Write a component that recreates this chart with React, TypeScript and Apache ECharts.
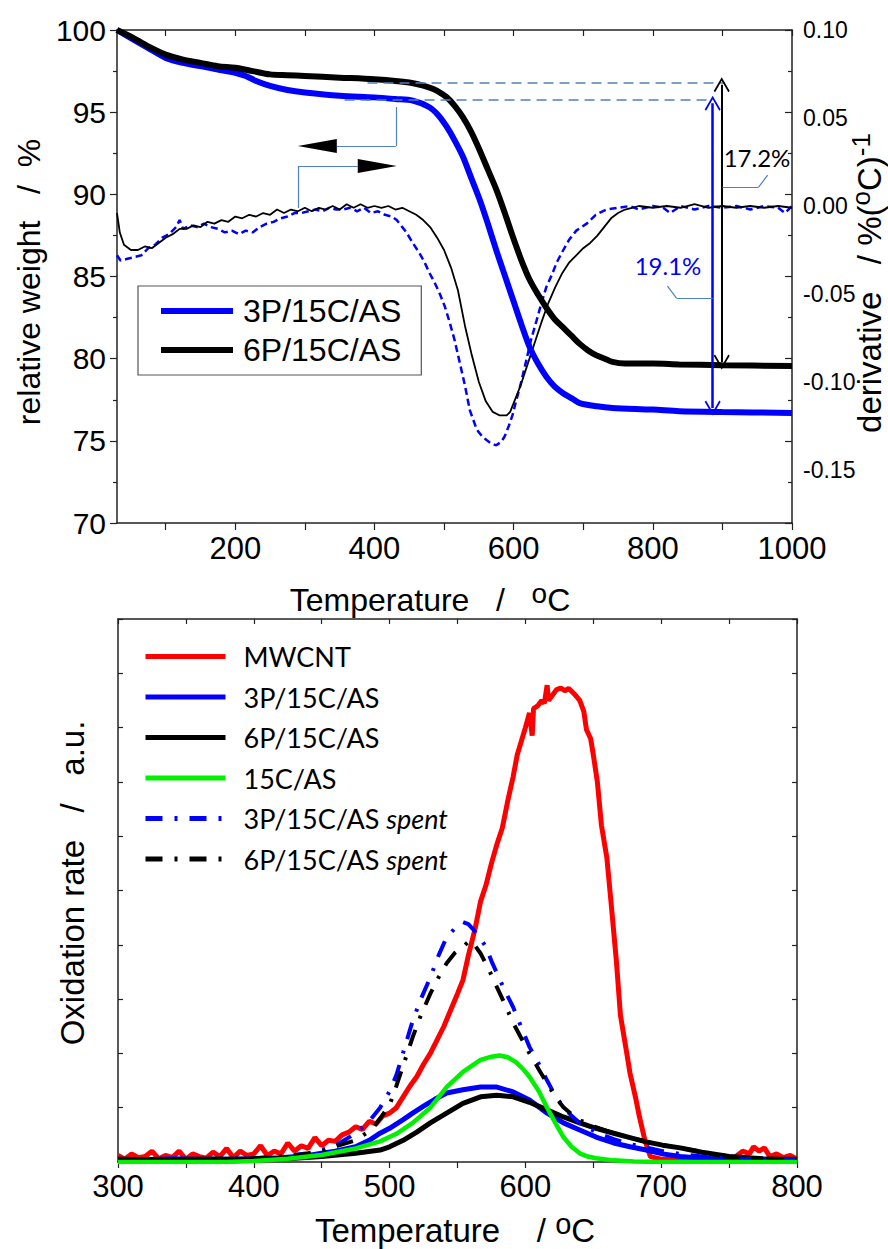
import React, { useEffect, useRef } from 'react';
import * as echarts from 'echarts';

const W = 888;
const H = 1249;
const FONT = "'Liberation Sans', Arial, sans-serif";
const FONT2 = "Lato, 'Open Sans', sans-serif";

// ---------- Top chart: TGA (relative weight, %) ----------
const tga3P: number[][] = [
  [30, 100], [50, 99.5], [75, 98.9], [100, 98.3], [125, 98.0], [150, 97.8], [175, 97.6], [200, 97.4],
  [215, 97.2], [230, 96.9], [250, 96.6], [275, 96.35], [300, 96.2], [350, 96.0], [400, 95.9], [430, 95.8],
  [455, 95.7], [479, 95.3], [492, 94.8], [504, 94.1], [515, 93.3], [527, 92.3], [539, 91.0], [551, 89.7],
  [563, 88.2], [575, 86.6], [587, 85.1], [599, 83.6], [611, 82.1], [623, 80.7], [635, 79.7], [647, 78.9],
  [659, 78.3], [671, 77.9], [683, 77.6], [695, 77.3], [720, 77.1], [742, 77.0], [800, 76.9], [838, 76.8],
  [900, 76.75], [1000, 76.7],
];
const tga6P: number[][] = [
  [30, 100], [50, 99.6], [75, 99.0], [100, 98.5], [125, 98.2], [150, 98.0], [175, 97.8], [200, 97.7],
  [225, 97.5], [250, 97.3], [275, 97.25], [300, 97.2], [350, 97.1], [400, 97.0], [450, 96.8], [479, 96.5],
  [490, 96.3], [504, 95.9], [515, 95.4], [527, 94.7], [539, 93.8], [551, 92.7], [563, 91.5], [575, 90.3],
  [587, 88.9], [599, 87.4], [611, 86.0], [623, 84.8], [635, 83.9], [647, 83.1], [659, 82.4], [671, 81.9],
  [683, 81.4], [695, 80.9], [707, 80.5], [719, 80.2], [731, 80.0], [742, 79.8], [760, 79.7], [800, 79.7],
  [838, 79.65], [900, 79.6], [1000, 79.55],
];

// ---------- Top chart: derivative (%/°C) ----------
const deriv3P: number[][] = [
  [30, -0.028], [35, -0.031], [45, -0.030], [55, -0.029], [65, -0.028], [75, -0.024], [85, -0.022], [95, -0.018],
  [105, -0.016], [115, -0.012], [120, -0.008], [125, -0.013], [135, -0.011], [145, -0.012], [155, -0.010],
  [165, -0.012], [175, -0.013], [185, -0.015], [195, -0.014], [205, -0.016], [215, -0.014], [225, -0.015],
  [235, -0.012], [245, -0.010], [255, -0.009], [265, -0.007], [275, -0.006], [285, -0.004], [295, -0.004],
  [305, -0.003], [315, -0.002], [325, -0.003], [335, -0.001], [345, -0.002], [355, -0.002], [365, -0.001],
  [375, -0.003], [385, -0.001], [395, -0.004], [405, -0.003], [415, -0.005], [425, -0.006], [432, -0.008],
  [440, -0.012], [446, -0.015], [455, -0.021], [465, -0.027], [472, -0.032], [479, -0.038], [487, -0.044],
  [494, -0.050], [501, -0.057], [508, -0.066], [515, -0.076], [522, -0.088], [530, -0.102], [537, -0.116],
  [547, -0.127], [555, -0.131], [561, -0.133], [568, -0.135], [575, -0.136], [582, -0.134], [587, -0.131],
  [593, -0.125], [599, -0.118], [604, -0.110], [609, -0.103], [618, -0.088], [625, -0.076], [633, -0.065],
  [640, -0.055], [647, -0.046], [655, -0.039], [662, -0.032], [670, -0.026], [680, -0.019], [690, -0.014],
  [705, -0.010], [718, -0.005], [733, -0.002], [750, -0.001], [767, 0.000], [780, -0.002], [800, 0.000],
  [815, -0.001], [825, -0.004], [840, 0.000], [860, -0.002], [880, 0.000], [900, -0.001], [920, 0.000],
  [940, -0.002], [960, 0.000], [980, -0.001], [990, -0.004], [1000, 0.000],
];
const deriv6P: number[][] = [
  [30, -0.004], [34, -0.015], [40, -0.022], [50, -0.025], [60, -0.025], [70, -0.023], [80, -0.024], [90, -0.021],
  [100, -0.018], [110, -0.016], [120, -0.013], [130, -0.013], [140, -0.011], [150, -0.012], [160, -0.009],
  [170, -0.010], [180, -0.008], [190, -0.009], [200, -0.006], [210, -0.007], [220, -0.005], [230, -0.006],
  [240, -0.004], [250, -0.005], [260, -0.002], [270, -0.004], [280, -0.002], [290, -0.003], [300, -0.001],
  [310, -0.003], [320, -0.001], [330, -0.002], [340, 0.000], [350, -0.002], [360, 0.001], [370, -0.001],
  [380, 0.001], [390, -0.001], [400, 0.000], [410, -0.001], [420, 0.000], [430, -0.002], [440, -0.001],
  [450, -0.003], [460, -0.005], [470, -0.008], [480, -0.012], [490, -0.018], [500, -0.025], [510, -0.035],
  [520, -0.048], [530, -0.068], [540, -0.085], [550, -0.100], [560, -0.111], [570, -0.117], [580, -0.119],
  [590, -0.119], [595, -0.117], [600, -0.112], [610, -0.102], [620, -0.090], [630, -0.078], [640, -0.066],
  [650, -0.055], [660, -0.046], [670, -0.038], [680, -0.032], [690, -0.028], [700, -0.024], [710, -0.021],
  [720, -0.017], [730, -0.012], [740, -0.007], [750, -0.004], [760, -0.002], [770, -0.001], [780, 0.000],
  [800, -0.001], [820, 0.000], [840, -0.001], [860, 0.001], [880, -0.001], [900, 0.000], [920, -0.001],
  [940, 0.000], [960, -0.001], [980, 0.000], [1000, -0.001],
];

// ---------- Bottom chart: oxidation rate (a.u.) ----------
const rateMWCNT: number[][] = [
  [300, 0.12], [305, 0.05], [310, 0.15], [315, 0.08], [320, 0.1], [325, 0.2], [330, 0.06], [335, 0.12],
  [340, 0.08], [345, 0.2], [350, 0.05], [355, 0.15], [360, 0.1], [365, 0.07], [370, 0.18], [375, 0.1],
  [380, 0.25], [385, 0.08], [390, 0.2], [395, 0.12], [400, 0.15], [405, 0.3], [410, 0.12], [415, 0.2],
  [420, 0.15], [425, 0.35], [430, 0.2], [435, 0.3], [440, 0.25], [445, 0.45], [450, 0.3], [455, 0.4],
  [460, 0.38], [465, 0.5], [470, 0.55], [475, 0.65], [480, 0.6], [485, 0.75], [490, 0.7], [495, 0.85],
  [500, 0.9], [505, 1.0], [510, 1.2], [515, 1.4], [520, 1.57], [525, 1.8], [530, 2.0], [535, 2.25],
  [540, 2.5], [545, 2.8], [550, 3.1], [554, 3.35], [558, 3.8], [563, 4.3], [567, 4.8], [571, 5.1],
  [575, 5.5], [579, 5.85], [583, 6.15], [587, 6.65], [591, 7.1], [594, 7.5], [597, 7.75], [600, 8.0],
  [603, 8.27], [605, 7.85], [606, 8.35], [609, 8.4], [612, 8.5], [614, 8.45], [616, 8.78], [617, 8.5],
  [620, 8.6], [623, 8.7], [626, 8.73], [629, 8.68], [632, 8.72], [636, 8.62], [640, 8.5], [643, 8.3],
  [645, 7.96], [648, 7.8], [650, 7.5], [653, 7.0], [656, 6.2], [660, 5.6], [663, 4.8], [667, 3.7],
  [670, 2.7], [674, 2.1], [677, 1.64], [681, 1.2], [684, 0.83], [688, 0.4], [692, 0.1], [700, 0.05],
  [710, 0.05], [720, 0.07], [730, 0.04], [740, 0.06], [750, 0.05], [755, 0.1], [760, 0.2], [765, 0.15],
  [768, 0.28], [772, 0.2], [776, 0.26], [780, 0.1], [785, 0.15], [790, 0.08], [795, 0.12], [800, 0.05],
];
const rate3P: number[][] = [
  [300, 0.05], [320, 0.04], [340, 0.06], [360, 0.05], [380, 0.05], [400, 0.06], [420, 0.08], [440, 0.12],
  [450, 0.16], [460, 0.2], [475, 0.28], [485, 0.4], [493, 0.53], [500, 0.62], [510, 0.78], [517, 0.9],
  [525, 1.03], [533, 1.15], [542, 1.27], [554, 1.33], [567, 1.38], [579, 1.38], [591, 1.29], [603, 1.14],
  [616, 0.9], [628, 0.72], [640, 0.59], [652, 0.46], [665, 0.35], [677, 0.28], [689, 0.22], [701, 0.15],
  [714, 0.1], [730, 0.07], [750, 0.05], [775, 0.05], [800, 0.04],
];
const rate6P: number[][] = [
  [300, 0.05], [330, 0.04], [360, 0.05], [400, 0.05], [430, 0.07], [450, 0.1], [475, 0.16], [493, 0.22],
  [500, 0.28], [510, 0.4], [520, 0.55], [530, 0.72], [542, 0.9], [554, 1.08], [567, 1.2], [579, 1.23],
  [591, 1.2], [603, 1.1], [616, 0.96], [628, 0.83], [640, 0.72], [652, 0.62], [665, 0.53], [677, 0.45],
  [689, 0.37], [701, 0.31], [714, 0.26], [730, 0.18], [750, 0.1], [775, 0.06], [800, 0.05],
];
const rate15C: number[][] = [
  [300, 0], [380, 0], [400, 0.02], [425, 0.06], [450, 0.13], [475, 0.25], [493, 0.38], [505, 0.52],
  [517, 0.72], [530, 1.0], [542, 1.38], [554, 1.66], [567, 1.88], [575, 1.94], [581, 1.96], [587, 1.93],
  [593, 1.84], [598, 1.72], [603, 1.57], [610, 1.3], [616, 1.0], [622, 0.72], [628, 0.46], [634, 0.28],
  [640, 0.16], [646, 0.1], [652, 0.07], [665, 0.03], [680, 0.01], [700, 0], [800, 0],
];
const rate3PSpent: number[][] = [
  [300, 0.05], [340, 0.05], [380, 0.06], [400, 0.07], [420, 0.1], [440, 0.16], [450, 0.22], [460, 0.3],
  [475, 0.53], [485, 0.75], [493, 1.0], [500, 1.3], [505, 1.6], [511, 2.1], [517, 2.6], [523, 3.0],
  [530, 3.4], [536, 3.8], [542, 4.14], [548, 4.3], [554, 4.42], [558, 4.38], [561, 4.3], [566, 4.15],
  [571, 3.96], [575, 3.7], [579, 3.48], [585, 3.15], [591, 2.85], [597, 2.48], [603, 2.12], [610, 1.8],
  [616, 1.5], [622, 1.22], [628, 1.01], [634, 0.85], [640, 0.72], [652, 0.55], [665, 0.42], [677, 0.33],
  [689, 0.27], [701, 0.2], [714, 0.15], [730, 0.1], [750, 0.06], [775, 0.05], [800, 0.04],
];
const rate6PSpent: number[][] = [
  [300, 0.05], [340, 0.05], [380, 0.06], [400, 0.07], [420, 0.1], [440, 0.15], [450, 0.2], [462, 0.3],
  [475, 0.4], [487, 0.6], [493, 0.8], [500, 1.05], [505, 1.4], [511, 1.85], [517, 2.3], [523, 2.7],
  [530, 3.1], [536, 3.4], [542, 3.66], [548, 3.85], [554, 3.96], [559, 4.08], [563, 3.98], [567, 3.84],
  [573, 3.55], [579, 3.22], [585, 2.9], [591, 2.56], [597, 2.28], [603, 2.0], [610, 1.7], [616, 1.45],
  [622, 1.2], [628, 1.01], [634, 0.88], [640, 0.77], [652, 0.64], [665, 0.53], [677, 0.45], [689, 0.37],
  [701, 0.31], [714, 0.26], [730, 0.19], [750, 0.1], [775, 0.06], [800, 0.05],
];

// ---------- Ticks / labels ----------
const topXTicks = [100, 200, 300, 400, 500, 600, 700, 800, 900, 1000];
const topXLabels = [200, 400, 600, 800, 1000];
const bottomXLabels = [300, 400, 500, 600, 700, 800];
const topLegend = ['3P/15C/AS', '6P/15C/AS'];
const bottomLegend = ['MWCNT', '3P/15C/AS', '6P/15C/AS', '15C/AS', '3P/15C/AS spent', '6P/15C/AS spent'];

// ---------- Annotations (data coordinates) ----------
const plateau6P = 96.77;
const plateau3P = 95.74;
const residue6P = 79.8;
const residue3P = 77.0;
const loss6PLabel = '17.2%';
const loss3PLabel = '19.1%';

export default function App() {
  const ref = useRef<HTMLDivElement>(null);

  useEffect(() => {
    const el = ref.current;
    if (!el) return;
    const chart = echarts.init(el, null, { renderer: 'svg', width: W, height: H });

    const steel = '#4F81BD';
    const axisLine = { show: true, onZero: false, lineStyle: { color: '#222', width: 1.5 } };
    const tickStyle = { color: '#222', width: 1.2 };
    const chevron = 'path://M0,14 L8,0 L16,14 L14.6,15.2 L8,3.6 L1.4,15.2 Z';
    const seg = (a: number[], b: number[], style: any) => [
      { coord: a, symbol: 'none', lineStyle: style },
      { coord: b, symbol: 'none' },
    ];
    const arrow = (x: number, y1: number, y2: number, style: any) => [
      { coord: [x, y1], symbol: chevron, symbolSize: [16, 15], lineStyle: style },
      { coord: [x, y2], symbol: chevron, symbolSize: [16, 15] },
    ];
    const leader = { color: steel, width: 1.2, type: 'solid' };
    const dashed = { color: steel, width: 1.5, type: [10, 6] };

    const bottomLine = (name: string, data: number[][], color: string, width: number, dash?: number[]) => ({
      name,
      type: 'line',
      xAxisIndex: 3,
      yAxisIndex: 3,
      data,
      symbol: 'none',
      showSymbol: false,
      lineStyle: { color, width, type: dash || 'solid' },
      itemStyle: { color },
      z: 2,
    });

    const supRich = (base: number, sup: number) => ({
      a: { fontFamily: FONT, fontSize: base, fill: '#000', color: '#000', lineHeight: 42 },
      s: { fontFamily: FONT, fontSize: sup, fill: '#000', color: '#000', lineHeight: 16, verticalAlign: 'top' },
    });

    const option: any = {
      animation: false,
      backgroundColor: '#fff',
      grid: [
        { left: 117, top: 30, width: 675, height: 493, containLabel: false, outerBoundsMode: 'none' },
        { left: 117, top: 30, width: 675, height: 528, containLabel: false, outerBoundsMode: 'none' },
        { left: 118, top: 619, width: 679, height: 543, containLabel: false, outerBoundsMode: 'none' },
      ],
      xAxis: [
        {
          gridIndex: 0, type: 'value', min: 30, max: 1000, position: 'bottom',
          axisLine, splitLine: { show: false },
          axisTick: { show: true, inside: false, length: 7, customValues: topXTicks, lineStyle: tickStyle },
          axisLabel: {
            show: true, customValues: topXLabels, fontFamily: FONT, fontSize: 31, color: '#000', margin: 10,
            formatter: (v: number) => String(v),
          },
        },
        {
          gridIndex: 0, type: 'value', min: 30, max: 1000, position: 'top',
          axisLine, splitLine: { show: false },
          axisTick: { show: true, inside: true, length: 6, customValues: topXTicks, lineStyle: tickStyle },
          axisLabel: { show: false },
        },
        {
          gridIndex: 1, type: 'value', min: 30, max: 1000, show: false,
          axisLine: { show: false, onZero: false },
        },
        {
          gridIndex: 2, type: 'value', min: 300, max: 800, interval: 50, position: 'bottom',
          axisLine, splitLine: { show: false },
          axisTick: { show: true, inside: false, length: 6, lineStyle: tickStyle },
          axisLabel: {
            show: true, customValues: bottomXLabels, fontFamily: FONT, fontSize: 31, color: '#000', margin: 9,
            formatter: (v: number) => String(v),
          },
        },
        {
          gridIndex: 2, type: 'value', min: 300, max: 800, interval: 50, position: 'top',
          axisLine, splitLine: { show: false },
          axisTick: { show: true, inside: true, length: 5, lineStyle: tickStyle },
          axisLabel: { show: false },
        },
      ],
      yAxis: [
        {
          gridIndex: 0, type: 'value', min: 70, max: 100, interval: 5, position: 'left',
          axisLine, splitLine: { show: false },
          axisTick: { show: true, inside: false, length: 7, lineStyle: tickStyle },
          minorTick: { show: true, splitNumber: 2, length: 4, lineStyle: tickStyle },
          axisLabel: { fontFamily: FONT, fontSize: 30, color: '#000', margin: 11 },
        },
        {
          gridIndex: 0, type: 'value', min: -0.2, max: 0.1, interval: 0.05, position: 'right',
          axisLine, splitLine: { show: false },
          axisTick: { show: true, inside: true, length: 7, lineStyle: tickStyle },
          minorTick: { show: true, splitNumber: 2, length: 4, lineStyle: tickStyle },
          axisLabel: { show: false },
        },
        {
          gridIndex: 1, type: 'value', min: -0.2, max: 0.1, interval: 0.05, position: 'right',
          axisLine: { show: false, onZero: false }, axisTick: { show: false }, splitLine: { show: false },
          axisLabel: {
            show: true, fontFamily: FONT, fontSize: 23, color: '#000', margin: 11,
            formatter: (v: number) => (Math.abs(v + 0.2) < 1e-6 ? '' : v.toFixed(2)),
          },
        },
        {
          gridIndex: 2, type: 'value', min: 0, max: 10, interval: 1, position: 'left',
          axisLine, splitLine: { show: false },
          axisTick: { show: true, inside: true, length: 5, lineStyle: tickStyle },
          axisLabel: { show: false },
        },
        {
          gridIndex: 2, type: 'value', min: 0, max: 10, interval: 1, position: 'right',
          axisLine, splitLine: { show: false },
          axisTick: { show: true, inside: true, length: 5, lineStyle: tickStyle },
          axisLabel: { show: false },
        },
      ],
      legend: [
        {
          data: topLegend,
          orient: 'vertical',
          left: 138,
          top: 286,
          padding: [9, 20, 9, 20],
          itemWidth: 72,
          itemHeight: 32,
          itemGap: 7,
          borderColor: '#555',
          borderWidth: 1.2,
          lineStyle: { width: 6 },
          itemStyle: { opacity: 0 },
          textStyle: { fontFamily: FONT, fontSize: 32, color: '#000', padding: [0, 0, 0, 5] },
          selectedMode: false,
        },
        {
          data: bottomLegend,
          orient: 'vertical',
          left: 143,
          top: 643,
          padding: 0,
          itemWidth: 80,
          itemHeight: 30,
          itemGap: 13.5,
          lineStyle: { width: 5 },
          itemStyle: { opacity: 0 },
          selectedMode: false,
          formatter: (name: string) =>
            name.endsWith(' spent') ? `{n|${name.slice(0, -6)} }{i|spent}` : `{n|${name}}`,
          textStyle: {
            fontFamily: FONT2, fontSize: 27, color: '#000', padding: [0, 0, 0, 13],
            rich: {
              n: { fontFamily: FONT2, fontSize: 27, color: '#000', lineHeight: 30 },
              i: { fontFamily: FONT2, fontSize: 27, color: '#000', lineHeight: 30, fontStyle: 'italic' },
            },
          },
        },
      ],
      series: [
        bottomLine('MWCNT', rateMWCNT, '#FF0000', 5),
        bottomLine('3P/15C/AS', rate3P, '#0000FF', 5),
        bottomLine('6P/15C/AS', rate6P, '#000000', 5),
        bottomLine('3P/15C/AS spent', rate3PSpent, '#0000FF', 4, [17, 12, 3, 12]),
        bottomLine('6P/15C/AS spent', rate6PSpent, '#000000', 4, [17, 12, 3, 12]),
        bottomLine('15C/AS', rate15C, '#00F000', 4.5),
        {
          name: 'derivative 3P/15C/AS', type: 'line', xAxisIndex: 2, yAxisIndex: 2, data: deriv3P,
          symbol: 'none', showSymbol: false,
          lineStyle: { color: '#0000FF', width: 2.5, type: [7, 4] }, itemStyle: { color: '#0000FF' },
        },
        {
          name: 'derivative 6P/15C/AS', type: 'line', xAxisIndex: 2, yAxisIndex: 2, data: deriv6P,
          symbol: 'none', showSymbol: false,
          lineStyle: { color: '#000000', width: 1.8 }, itemStyle: { color: '#000000' },
        },
        {
          name: '3P/15C/AS', type: 'line', xAxisIndex: 0, yAxisIndex: 0, data: tga3P,
          symbol: 'none', showSymbol: false, smooth: 0.3,
          lineStyle: { color: '#0000FF', width: 6 }, itemStyle: { color: '#0000FF' },
          z: 3,
        },
        {
          name: '6P/15C/AS', type: 'line', xAxisIndex: 0, yAxisIndex: 0, data: tga6P,
          symbol: 'none', showSymbol: false, smooth: 0.3,
          lineStyle: { color: '#000000', width: 6 }, itemStyle: { color: '#000000' },
          z: 3,
          markLine: {
            silent: true,
            symbol: ['none', 'none'],
            label: { show: false },
            data: [
              seg([390, plateau6P], [903, plateau6P], dashed),
              seg([357, plateau3P], [886, plateau3P], dashed),
              arrow(899, plateau6P - 0.1, residue6P, { color: '#000', width: 2, type: 'solid' }),
              arrow(886, plateau3P - 0.2, residue3P, { color: '#0000FF', width: 2.5, type: 'solid' }),
              seg([900, 90.44], [952, 90.44], leader),
              seg([952, 90.44], [965, 91.17], leader),
              seg([821, 84.42], [834, 83.69], leader),
              seg([834, 83.69], [886, 83.69], leader),
              seg([430.6, 95.31], [430.6, 92.94], leader),
              seg([430.6, 92.94], [345.9, 92.94], leader),
              seg([289.9, 89.17], [289.9, 91.72], leader),
              seg([289.9, 91.72], [376, 91.72], leader),
            ],
          },
          markPoint: {
            silent: true,
            label: { show: false },
            itemStyle: { color: '#000' },
            data: [
              { coord: [317.9, 92.94], symbol: 'path://M0,7 L39,0 L39,14 Z', symbolSize: [39, 14] },
              { coord: [404, 91.72], symbol: 'path://M0,0 L39,7 L0,14 Z', symbolSize: [39, 14] },
            ],
          },
        },
      ],
      graphic: [
        {
          type: 'text', x: 757, y: 157, silent: true,
          style: { text: loss6PLabel, fill: '#000', fontFamily: FONT2, fontSize: 24, align: 'center', verticalAlign: 'middle' },
        },
        {
          type: 'text', x: 668, y: 265, silent: true,
          style: { text: loss3PLabel, fill: '#0000FF', fontFamily: FONT2, fontSize: 24, align: 'center', verticalAlign: 'middle' },
        },
        {
          type: 'text', x: 430, y: 600, silent: true,
          style: {
            text: '{a|Temperature   /   }{s|o}{a|C}', align: 'center', verticalAlign: 'middle',
            rich: supRich(32, 28),
          },
        },
        {
          type: 'text', x: 29, y: 282, rotation: Math.PI / 2, silent: true,
          style: {
            text: '{a|relative weight   /  %}', align: 'center', verticalAlign: 'middle',
            rich: { a: { fontFamily: FONT, fontSize: 32, fill: '#000', color: '#000', lineHeight: 36 } },
          },
        },
        {
          type: 'text', x: 869, y: 283, rotation: Math.PI / 2, silent: true,
          style: {
            text: '{a|derivative   / %(}{s|o}{a|C)}{s|-1}', align: 'center', verticalAlign: 'middle',
            rich: supRich(33, 26),
          },
        },
        {
          type: 'text', x: 455, y: 1230, silent: true,
          style: {
            text: '{a|Temperature    / }{s|o}{a|C}', align: 'center', verticalAlign: 'middle',
            rich: supRich(33, 29),
          },
        },
        {
          type: 'text', x: 72, y: 883, rotation: Math.PI / 2, silent: true,
          style: {
            text: '{a|Oxidation rate   /   a.u.}', align: 'center', verticalAlign: 'middle',
            rich: { a: { fontFamily: FONT, fontSize: 33, fill: '#000', color: '#000', lineHeight: 36 } },
          },
        },
      ],
    };

    chart.setOption(option);
    return () => chart.dispose();
  }, []);

  return (
    <div
      ref={ref}
      style={{ position: 'fixed', left: 0, top: 0, width: W, height: H, background: '#fff' }}
    />
  );
}
